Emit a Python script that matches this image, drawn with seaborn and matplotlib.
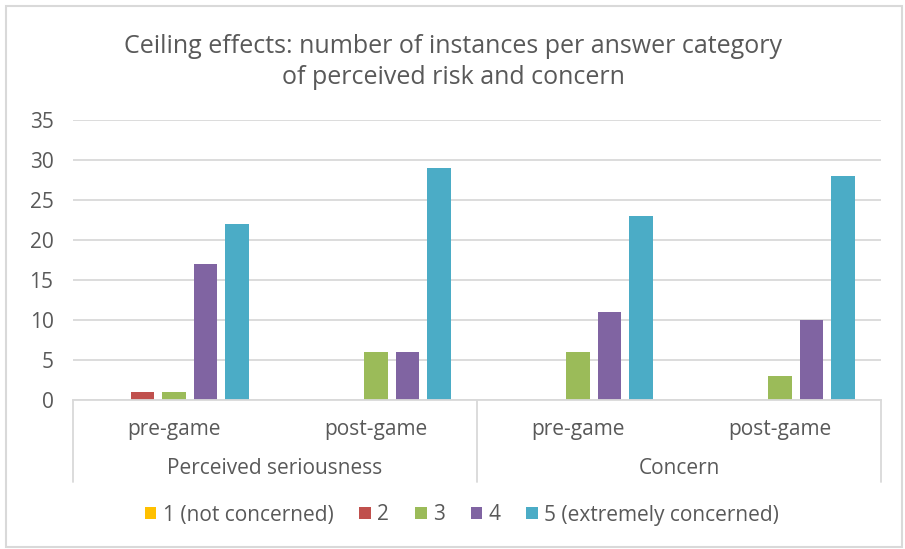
import matplotlib
matplotlib.use("Agg")
import matplotlib.pyplot as plt
import seaborn as sns
import pandas as pd
from matplotlib.patches import Rectangle, Patch
from matplotlib.lines import Line2D

# ---- data ----
groups = ["Perceived seriousness", "Perceived seriousness", "Concern", "Concern"]
phases = ["pre-game", "post-game", "pre-game", "post-game"]
answers = ["1 (not concerned)", "2", "3", "4", "5 (extremely concerned)"]
counts_1 = [0, 0, 0, 0]
counts_2 = [1, 0, 0, 0]
counts_3 = [1, 6, 6, 3]
counts_4 = [17, 6, 11, 10]
counts_5 = [22, 29, 23, 28]
colors = ["#FFC000", "#C0504D", "#9BBB59", "#8064A2", "#4BACC6"]
yticks = [0, 5, 10, 15, 20, 25, 30, 35]
title = "Ceiling effects: number of instances per answer category\nof perceived risk and concern"

series = [counts_1, counts_2, counts_3, counts_4, counts_5]
keys = [f"{g}|{p}" for g, p in zip(groups, phases)]
rows = []
for a, vals in zip(answers, series):
    for k, v in zip(keys, vals):
        rows.append({"slot": k, "answer": a, "count": v})
df = pd.DataFrame(rows)

sns.set_theme(style="white")
plt.rcParams["font.family"] = ["Open Sans", "DejaVu Sans"]
TXT = "#595959"

fig = plt.figure(figsize=(9.05, 5.49), dpi=100)
W, H = 905, 549
ax = fig.add_axes([73 / W, 1 - 400 / H, 808 / W, 280 / H])

sns.barplot(data=df, x="slot", y="count", hue="answer", order=keys,
            hue_order=answers, palette=colors, saturation=1, width=0.78, gap=0.24,
            errorbar=None, linewidth=0, ax=ax)

ax.set_ylim(0, 35)
ax.set_xlim(-0.5, 3.5)
ax.set_yticks(yticks)
ax.set_yticklabels([str(t) for t in yticks], fontsize=15, color=TXT)
ax.yaxis.grid(True, color="#D9D9D9", linewidth=1.3)
ax.set_axisbelow(True)
ax.tick_params(axis="y", length=0, pad=14)
ax.tick_params(axis="x", length=0, pad=14)
ax.set_xticks(range(4))
ax.set_xticklabels(phases, fontsize=15, color=TXT)
ax.set_xlabel("")
ax.set_ylabel("")
for s in ["top", "right", "left"]:
    ax.spines[s].set_visible(False)
ax.spines["bottom"].set_color("#D9D9D9")
ax.spines["bottom"].set_linewidth(1.3)

# two-level category axis
trans = ax.get_xaxis_transform()
depth = -(482 - 400) / 280
for xv in [-0.5, 1.5, 3.5]:
    ax.add_line(Line2D([xv, xv], [0, depth], transform=trans, color="#D9D9D9",
                       linewidth=1.3, clip_on=False))
for gi, gname in enumerate(["Perceived seriousness", "Concern"]):
    ax.text(0.5 + 2 * gi, -(468 - 400) / 280, gname, transform=trans,
            ha="center", va="center", fontsize=15, color=TXT)

ax.legend_.remove()
handles = [Patch(facecolor=c, edgecolor="none") for c in colors]
fig.legend(handles, answers, loc="center", bbox_to_anchor=(462 / W, 1 - 515 / H),
           ncol=5, frameon=False, fontsize=15, labelcolor=TXT,
           handlelength=0.55, handleheight=0.55, handletextpad=0.3,
           columnspacing=1.25)

fig.text(453 / W, 1 - 62 / H, title, ha="center", va="center", fontsize=18,
         color=TXT, linespacing=1.3)

fig.patches.append(Rectangle((6 / W, 2 / H), 896 / W, 541 / H, transform=fig.transFigure,
                             fill=False, edgecolor="#D9D9D9", linewidth=1.5))

fig.savefig("out.png", dpi=100)
